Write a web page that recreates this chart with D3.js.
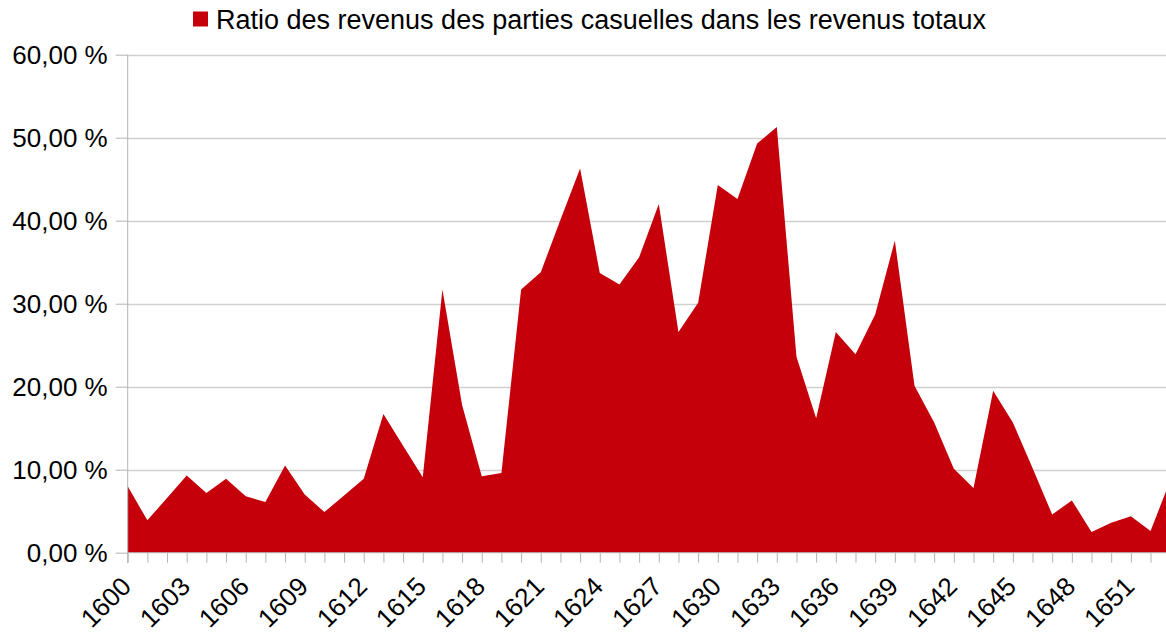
<!DOCTYPE html>
<html>
<head>
<meta charset="utf-8">
<script src="https://cdn.jsdelivr.net/npm/d3@7"></script>
<style>
  html, body { margin: 0; padding: 0; background: #fff; overflow: hidden; }
  text { font-family: "Liberation Sans", Arial, sans-serif; fill: #000; }
</style>
</head>
<body>
<svg id="chart" width="1166" height="634"></svg>
<script>
const seriesName = "Ratio des revenus des parties casuelles dans les revenus totaux";
const years = d3.range(1600, 1654);
const ratios = [
  8.0, 3.9, 6.6, 9.3, 7.2, 8.9, 6.8, 6.1, 10.5, 7.0,
  4.9, 6.9, 8.9, 16.7, 12.9, 9.1, 31.7, 17.8, 9.2, 9.6,
  31.7, 33.8, 40.1, 46.3, 33.7, 32.3, 35.6, 42.0, 26.6, 30.1,
  44.3, 42.6, 49.3, 51.3, 23.6, 16.2, 26.6, 23.9, 28.7, 37.6,
  20.1, 15.7, 10.1, 7.8, 19.5, 15.7, 10.2, 4.6, 6.3, 2.5,
  3.6, 4.4, 2.6, 8.7
];
const yTicks = [0, 10, 20, 30, 40, 50, 60];
const xTickYears = d3.range(1600, 1652, 3);

const svg = d3.select("#chart");
const W = 1166, H = 634;
const left = 127.7, step = 19.67;
const x = d3.scaleLinear().domain([1600, 1653]).range([left, left + 53 * step]);
const y = d3.scaleLinear().domain([0, 60]).range([552.7, 54.7]);

const data = years.map((yr, i) => ({ yr, v: ratios[i] }));
const fmt = v => v.toFixed(2).replace(".", ",") + " %";

// gridlines
svg.append("g").selectAll("line").data(yTicks.filter(t => t > 0)).join("line")
  .attr("x1", left).attr("x2", W)
  .attr("y1", d => Math.round(y(d)) + 0.5).attr("y2", d => Math.round(y(d)) + 0.5)
  .attr("stroke", "#d0d0d0").attr("stroke-width", 1.4);

// area
const area = d3.area().x(d => x(d.yr)).y0(y(0)).y1(d => y(d.v));
svg.append("path").datum(data).attr("d", area).attr("fill", "#c5000b");

// y axis
const yAxis = d3.axisLeft(y).tickValues(yTicks).tickSize(12).tickPadding(8).tickFormat(fmt);
const gy = svg.append("g").attr("transform", `translate(${left},0)`).call(yAxis);
gy.select(".domain").attr("stroke", "#b3b3b3").attr("d", `M0,${y(60)}V${y(0) + 10.5}`);
gy.selectAll(".tick line").attr("stroke", "#b3b3b3");
gy.selectAll(".tick text").attr("font-size", 26).attr("font-family", "Liberation Sans, Arial, sans-serif").attr("fill", "#000");

// x axis
const xAxis = d3.axisBottom(x).tickValues(years).tickSize(10).tickFormat("");
const gx = svg.append("g").attr("transform", `translate(0,${y(0)})`).call(xAxis);
gx.select(".domain").attr("stroke", "#b3b3b3").attr("d", `M${left},0H${W}`);
gx.selectAll(".tick line").attr("stroke", "#b3b3b3");

svg.append("g").selectAll("text").data(xTickYears).join("text")
  .attr("transform", d => `translate(${x(d) + 5},${588}) rotate(-45)`)
  .attr("text-anchor", "end")
  .attr("font-size", 26)
  .text(d => d);

// legend
svg.append("rect").attr("x", 193).attr("y", 11.5).attr("width", 15).attr("height", 15).attr("fill", "#c5000b");
svg.append("text").attr("x", 216).attr("y", 28.5).attr("font-size", 27).text(seriesName);
</script>
</body>
</html>
